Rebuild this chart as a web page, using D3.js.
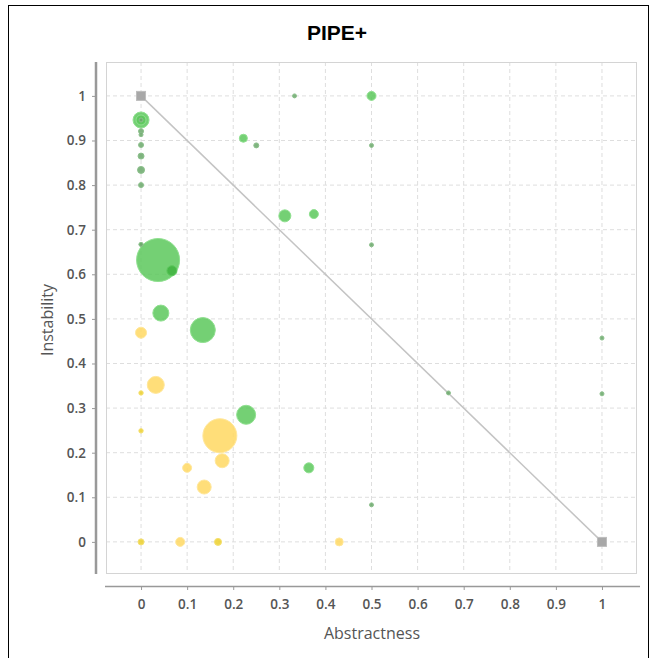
<!DOCTYPE html>
<html><head><meta charset="utf-8">
<script src="https://cdn.jsdelivr.net/npm/d3@7"></script>
<style>body{margin:0;background:#fff}svg{display:block}</style>
</head><body><svg id="c" width="655" height="658"></svg>
<script>
// Abstractness (x), Instability (y), bubble radius, colour group
const abstractness = [0.037,0.0,0.0,0.0,0.0,0.0,0.0,0.0,0.0,0.0,0.0,0.333,0.5,0.222,0.25,0.5,0.312,0.375,0.5,0.0,0.067,0.043,0.134,0.228,0.364,0.5,0.667,1.0,1.0,
  0.0,0.0,0.032,0.0,0.171,0.176,0.1,0.137,0.0,0.085,0.167,0.43];
const instability = [0.632,0.946,0.946,0.946,0.921,0.913,0.89,0.865,0.834,0.8,0.667,1.0,1.0,0.905,0.889,0.889,0.731,0.735,0.666,0.667,0.608,0.513,0.475,0.285,0.166,0.083,0.334,0.457,0.332,
  0.469,0.334,0.352,0.249,0.238,0.182,0.166,0.123,0.0,0.0,0.0,0.0];
const sizes = [21.5,8,5,2,2.5,2,2.5,3,3.5,2.5,2,2,4.5,4,2.5,2,6,4.5,2,2,5,8,12.5,9.5,5,2,2,2,2,
  5.5,2.2,8.5,2.2,17,7,4.5,7,3,4.5,3.5,4];
const groups = ["g","g","g","d","d","d","d","d","d","d","d","d","g","g","d","d","g","g","d","d","dg","g","g","g","g","d","d","d","d",
  "y","yd","y","yd","y","y","y","y","yd","y","yd","y"];
const mainSeq = [[0,1],[1,0]];
const ticks = [0,0.1,0.2,0.3,0.4,0.5,0.6,0.7,0.8,0.9,1];

const svg = d3.select("#c");
const L=106,R=637,T=62,B=574;
const x = d3.scaleLinear().domain([-0.076,1.076]).range([L,R]);
const y = d3.scaleLinear().domain([-0.072,1.076]).range([B,T]);
const r = d3.scaleLinear().domain([0,1]).range([0,1]);
const fills = {g:"#5cc85c", d:"#6aa86a", dg:"#3fb33f", y:"#ffd862", yd:"#ecd02c"};
const strokes = {g:"#8fe08f", d:"#8cc08c", dg:"#5cc85c", y:"#ffe79a", yd:"#f5e070"};

// outer frame
svg.append("rect").attr("x",8.5).attr("y",5.5).attr("width",640).attr("height",700)
  .attr("fill","none").attr("stroke","#000").attr("stroke-width",1);

// title
svg.append("text").attr("x",337).attr("y",40).attr("text-anchor","middle")
  .style("font-family","Liberation Sans, Arial, sans-serif").style("font-weight","bold")
  .style("font-size","21px").attr("fill","#000").text("PIPE+");

// grid
const g = svg.append("g");
g.selectAll(".vx").data(ticks).join("line").attr("x1",d=>x(d)).attr("x2",d=>x(d))
  .attr("y1",T).attr("y2",B).attr("stroke","#dedede").attr("stroke-dasharray","4,3");
g.selectAll(".hy").data(ticks).join("line").attr("y1",d=>y(d)).attr("y2",d=>y(d))
  .attr("x1",L).attr("x2",R).attr("stroke","#dedede").attr("stroke-dasharray","4,3");
svg.append("rect").attr("x",L+0.5).attr("y",T+0.5).attr("width",R-L-1).attr("height",B-T-1)
  .attr("fill","none").attr("stroke","#d4d4d4");

// axes
const fontTick = "Open Sans, Noto Sans, sans-serif";
const xAxis = d3.axisBottom(x).tickValues(ticks).tickSize(4).tickPadding(9).tickFormat(d3.format("~g"));
const xa = svg.append("g").attr("transform","translate(0,586)").call(xAxis);
xa.select(".domain").attr("d",`M105,0.5H640`).attr("stroke","#999").attr("stroke-width",1.5);
xa.selectAll(".tick line").attr("stroke","#999");
xa.selectAll("text").style("font-family",fontTick).style("font-size","13.5px").style("font-weight","600").attr("fill","#555");

const yAxis = d3.axisLeft(y).tickValues(ticks).tickSize(4).tickPadding(6).tickFormat(d3.format("~g"));
const ya = svg.append("g").attr("transform","translate(96,0)").call(yAxis);
ya.select(".domain").attr("d",`M0,${T}V${B}`).attr("stroke","#999").attr("stroke-width",2.5);
ya.selectAll(".tick line").attr("stroke","#999");
ya.selectAll("text").style("font-family",fontTick).style("font-size","13.5px").style("font-weight","600").attr("fill","#555");

svg.append("text").attr("x",372).attr("y",639).attr("text-anchor","middle")
  .style("font-family",fontTick).style("font-size","16px").attr("fill","#555").text("Abstractness");
svg.append("text").attr("transform","translate(53,320) rotate(-90)").attr("text-anchor","middle")
  .style("font-family",fontTick).style("font-size","16px").attr("fill","#555").text("Instability");

// main sequence
svg.append("line").attr("x1",x(mainSeq[0][0])).attr("y1",y(mainSeq[0][1]))
  .attr("x2",x(mainSeq[1][0])).attr("y2",y(mainSeq[1][1])).attr("stroke","#c4c4c4").attr("stroke-width",1.5);
svg.selectAll(".sq").data(mainSeq).join("rect").attr("x",d=>x(d[0])-4.5).attr("y",d=>y(d[1])-4.5)
  .attr("width",9).attr("height",9).attr("fill","#a8a8a8").attr("stroke","#bdbdbd");

// bubbles
const pts = abstractness.map((a,i)=>({a, i:instability[i], s:sizes[i], k:groups[i]}));
svg.append("g").selectAll("circle").data(pts).join("circle")
  .attr("cx",d=>x(d.a)).attr("cy",d=>y(d.i)).attr("r",d=>r(d.s))
  .attr("fill",d=>fills[d.k]).attr("fill-opacity",0.85)
  .attr("stroke",d=>strokes[d.k]).attr("stroke-width",1);
</script></body></html>
